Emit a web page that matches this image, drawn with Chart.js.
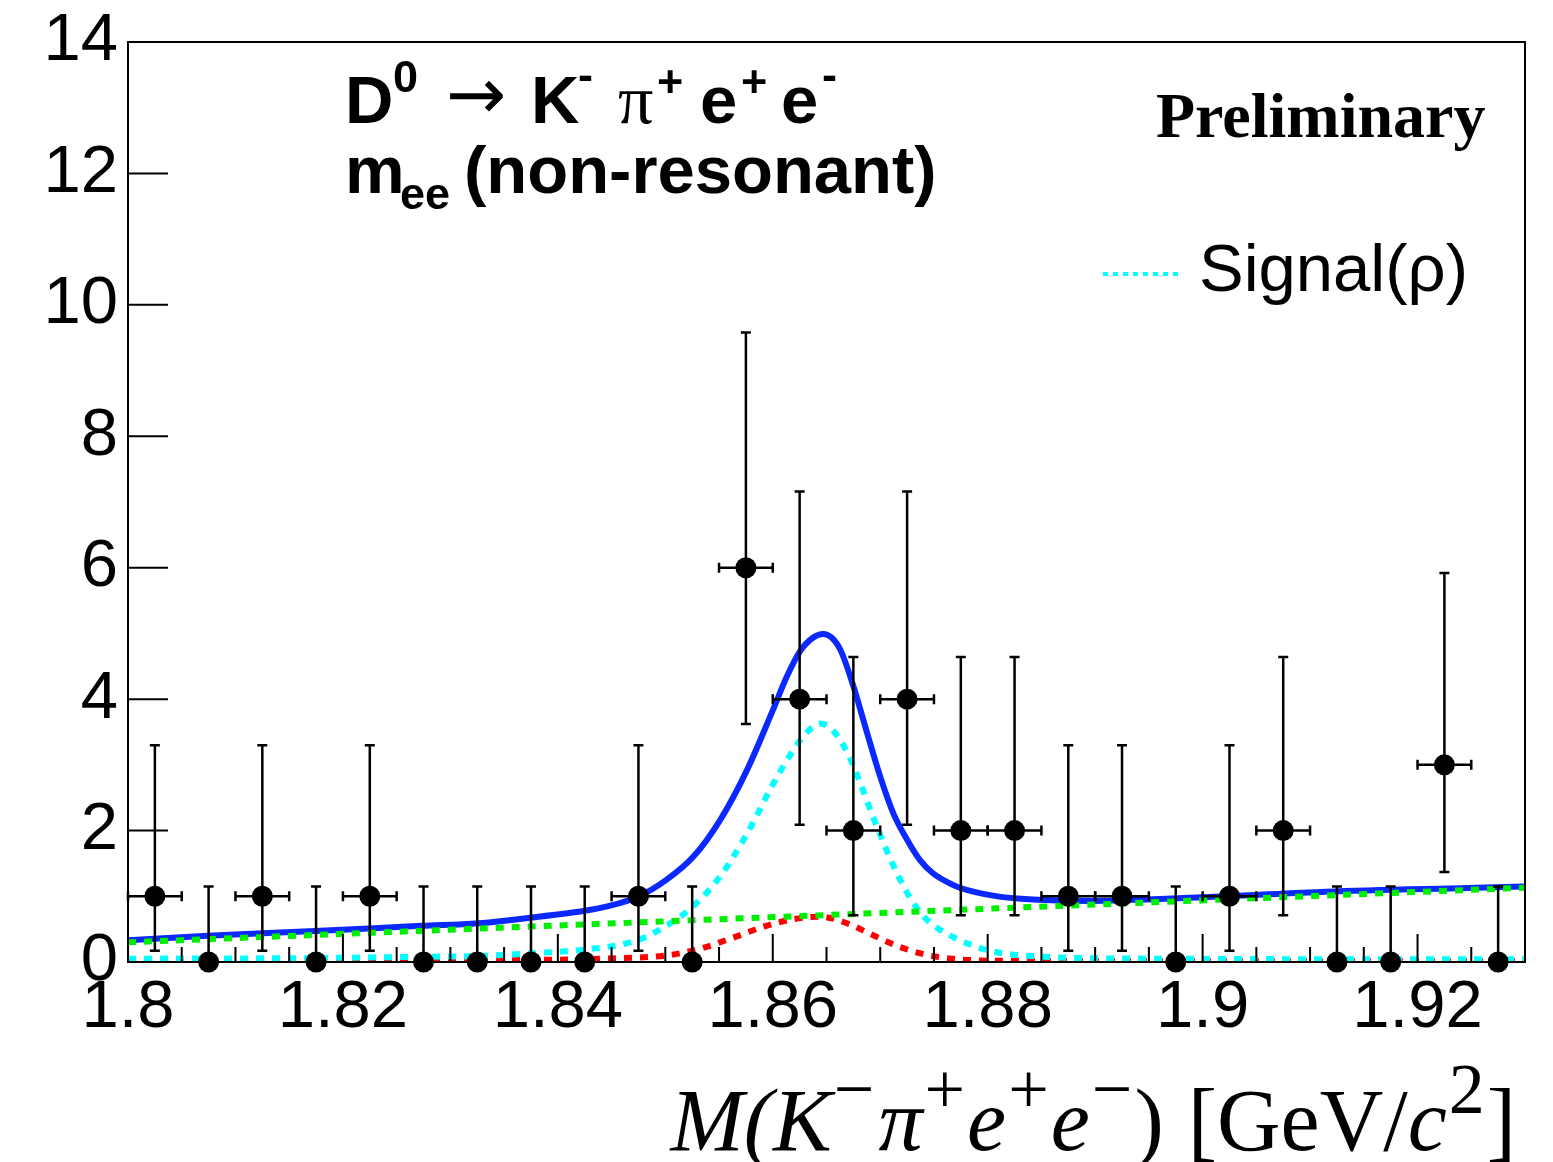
<!DOCTYPE html>
<html>
<head>
<meta charset="utf-8">
<script src="https://cdn.jsdelivr.net/npm/chart.js@4.4.1/dist/chart.umd.min.js"></script>
<style>
  html, body { margin: 0; padding: 0; background: #fff; }
</style>
</head>
<body>
<canvas id="fit" width="1553" height="1162"></canvas>
<script>
// ===== D0 -> K- pi+ e+ e- mass fit (non-resonant m_ee) =====

// Data: bin centres, counts and Poisson error bar edges
const binCenters = [1.8025, 1.8075, 1.8125, 1.8175, 1.8225, 1.8275, 1.8325, 1.8375, 1.8425, 1.8475,
                    1.8525, 1.8575, 1.8625, 1.8675, 1.8725, 1.8775, 1.8825, 1.8875, 1.8925, 1.8975,
                    1.9025, 1.9075, 1.9125, 1.9175, 1.9225, 1.9275];
const binHalfWidth = 0.0025;
const counts  = [1, 0, 1, 0, 1, 0, 0, 0, 0, 1, 0, 6, 4, 2, 4, 2, 2, 1, 1, 0, 1, 2, 0, 0, 3, 0];
const errLow  = [0.17, 0, 0.17, 0, 0.17, 0, 0, 0, 0, 0.17, 0, 3.62, 2.09, 0.71, 2.09, 0.71, 0.71, 0.17, 0.17, 0,
                 0.17, 0.71, 0, 0, 1.37, 0];
const errHigh = [3.30, 1.15, 3.30, 1.15, 3.30, 1.15, 1.15, 1.15, 1.15, 3.30, 1.15, 9.58, 7.16, 4.64, 7.16, 4.64,
                 4.64, 3.30, 3.30, 1.15, 3.30, 4.64, 1.15, 1.15, 5.92, 1.15];

// Fit curves
const totalX = [1.8000, 1.8074, 1.8174, 1.8273, 1.8326, 1.8372, 1.8425, 1.8447, 1.8474, 1.8501, 1.8526,
                1.8551, 1.8576, 1.8600, 1.8613, 1.8625, 1.8637, 1.8647, 1.8662, 1.8674, 1.8687, 1.8700,
                1.8712, 1.8725, 1.8737, 1.8749, 1.8762, 1.8774, 1.8805, 1.8842, 1.8898, 1.8960, 1.9022,
                1.9115, 1.9255, 1.9300];
const totalY = [0.33, 0.40, 0.47, 0.55, 0.59, 0.67, 0.78, 0.85, 0.99, 1.25, 1.60,
                2.16, 2.92, 3.83, 4.34, 4.72, 4.93, 4.99, 4.78, 4.25, 3.53, 2.82,
                2.27, 1.86, 1.55, 1.35, 1.22, 1.13, 1.01, 0.95, 0.93, 0.96, 1.00,
                1.07, 1.13, 1.15];

const signalX = [1.8000, 1.8174, 1.8273, 1.8326, 1.8372, 1.8425, 1.8470, 1.8501, 1.8526, 1.8551, 1.8576,
                 1.8600, 1.8619, 1.8632, 1.8644, 1.8656, 1.8669, 1.8681, 1.8693, 1.8706, 1.8718, 1.8730,
                 1.8743, 1.8762, 1.8780, 1.8805, 1.8851, 1.8960, 1.9300];
const signalY = [0.05, 0.06, 0.08, 0.09, 0.13, 0.19, 0.31, 0.55, 0.85, 1.30, 1.95,
                 2.70, 3.22, 3.50, 3.63, 3.52, 3.20, 2.74, 2.22, 1.70, 1.27, 0.92,
                 0.65, 0.43, 0.29, 0.16, 0.08, 0.05, 0.04];

const peakingX = [1.8000, 1.8372, 1.8439, 1.8501, 1.8532, 1.8563, 1.8594, 1.8619, 1.8644, 1.8669, 1.8693,
                  1.8718, 1.8743, 1.8767, 1.8805, 1.9300];
const peakingY = [0.01, 0.03, 0.05, 0.10, 0.20, 0.37, 0.55, 0.65, 0.69, 0.59, 0.41,
                  0.23, 0.11, 0.05, 0.02, 0.01];

const combX = [1.80, 1.93];
const combY = [0.30, 1.13];

// Axis ticks
const xTicks = [1.8, 1.82, 1.84, 1.86, 1.88, 1.9, 1.92];
const xTickLabels = ["1.8", "1.82", "1.84", "1.86", "1.88", "1.9", "1.92"];
const xMinorStep = 0.005;
const yTicks = [0, 2, 4, 6, 8, 10, 12, 14];
const yTickLabels = ["0", "2", "4", "6", "8", "10", "12", "14"];

const SANS = "'Liberation Sans', Arial, Helvetica, sans-serif";
const SERIF = "'Liberation Serif', 'Times New Roman', serif";

const toXY = (xs, ys) => xs.map((x, i) => ({ x: x, y: ys[i] }));

// draw a run of text pieces, each {t, font, dy, gap}
function drawRun(ctx, x, y, pieces) {
    pieces.forEach(p => {
        ctx.font = p.font;
        ctx.fillText(p.t, x, y + (p.dy || 0));
        x += ctx.measureText(p.t).width + (p.gap || 0);
    });
}
function runWidth(ctx, pieces) {
    let w = 0;
    pieces.forEach(p => { ctx.font = p.font; w += ctx.measureText(p.t).width + (p.gap || 0); });
    return w;
}

// ROOT-like frame, inward ticks, error bars and labels
const rootStyle = {
    id: "rootStyle",
    beforeDraw(chart) {
        const ctx = chart.ctx;
        ctx.save();
        ctx.fillStyle = "#fff";
        ctx.fillRect(0, 0, chart.width, chart.height);
        ctx.restore();
    },
    afterDatasetsDraw(chart) {
        const ctx = chart.ctx;
        const xs = chart.scales.x, ys = chart.scales.y;
        const a = chart.chartArea;
        ctx.save();
        ctx.strokeStyle = "#000";
        ctx.lineWidth = 2.5;

        // error bars
        const cap = 5;
        binCenters.forEach((c, i) => {
            const px = xs.getPixelForValue(c);
            const py = ys.getPixelForValue(counts[i]);
            const pLo = ys.getPixelForValue(errLow[i]);
            const pHi = ys.getPixelForValue(errHigh[i]);
            ctx.beginPath();
            ctx.moveTo(px, pLo); ctx.lineTo(px, pHi);
            ctx.moveTo(px - cap, pHi); ctx.lineTo(px + cap, pHi);
            if (counts[i] > 0) {
                const x0 = xs.getPixelForValue(c - binHalfWidth);
                const x1 = xs.getPixelForValue(c + binHalfWidth);
                ctx.moveTo(px - cap, pLo); ctx.lineTo(px + cap, pLo);
                ctx.moveTo(x0, py); ctx.lineTo(x1, py);
                ctx.moveTo(x0, py - cap); ctx.lineTo(x0, py + cap);
                ctx.moveTo(x1, py - cap); ctx.lineTo(x1, py + cap);
            }
            ctx.stroke();
        });

        // frame
        ctx.lineWidth = 2;
        ctx.strokeRect(a.left, a.top, a.right - a.left, a.bottom - a.top);

        // y ticks (inward)
        ctx.beginPath();
        yTicks.forEach(v => {
            const py = ys.getPixelForValue(v);
            ctx.moveTo(a.left, py); ctx.lineTo(a.left + 40, py);
        });
        // x ticks (inward, major + minor)
        for (let v = xs.min; v <= xs.max + 1e-9; v += xMinorStep) {
            const px = xs.getPixelForValue(v);
            const major = xTicks.some(t => Math.abs(t - v) < 1e-6);
            ctx.moveTo(px, a.bottom); ctx.lineTo(px, a.bottom - (major ? 28 : 15));
        }
        ctx.stroke();

        // titles
        ctx.fillStyle = "#000";
        ctx.textBaseline = "alphabetic";
        ctx.textAlign = "left";
        const B = "bold 67px " + SANS, Bs = "bold 45px " + SANS;
        ctx.font = B;      ctx.fillText("D", 345, 123);
        ctx.font = Bs;     ctx.fillText("0", 393, 92);
        ctx.font = "72px 'DejaVu Sans', sans-serif";
        ctx.textBaseline = "middle"; ctx.fillText("\u2192", 446, 100);
        ctx.textBaseline = "alphabetic";
        ctx.font = B;      ctx.fillText("K", 531, 123);
        ctx.font = Bs;     ctx.fillText("-", 578, 90);
        ctx.font = "70px " + SERIF; ctx.fillText("\u03c0", 618, 123);
        ctx.font = Bs;     ctx.fillText("+", 657, 97);
        ctx.font = B;      ctx.fillText("e", 700, 123);
        ctx.font = Bs;     ctx.fillText("+", 741, 97);
        ctx.font = B;      ctx.fillText("e", 781, 123);
        ctx.font = Bs;     ctx.fillText("-", 822, 90);

        ctx.font = B;      ctx.fillText("m", 345, 193);
        ctx.font = Bs;     ctx.fillText("ee", 400, 209);
        ctx.font = B;      ctx.fillText("(non-resonant)", 464, 193);

        ctx.font = "bold 64px " + SERIF;
        ctx.fillText("Preliminary", 1156, 137);

        // legend
        ctx.save();
        ctx.strokeStyle = "#00ffff";
        ctx.lineWidth = 4;
        ctx.setLineDash([5, 5]);
        ctx.beginPath(); ctx.moveTo(1103, 274); ctx.lineTo(1183, 274); ctx.stroke();
        ctx.restore();
        ctx.font = "67px " + SANS;
        ctx.fillText("Signal(\u03c1)", 1199, 291);

        // x axis title
        const I = "italic 88px " + SERIF, R = "88px " + SERIF, S = "72px " + SERIF;
        const up = -37;
        const title = [
            { t: "M(K", font: I, gap: 2 },
            { t: "\u2212", font: S, dy: up, gap: 4 },
            { t: "\u03c0", font: I, gap: 2 },
            { t: "+", font: S, dy: up, gap: 2 },
            { t: "e", font: I, gap: 2 },
            { t: "+", font: S, dy: up, gap: 2 },
            { t: "e", font: I, gap: 2 },
            { t: "\u2212", font: S, dy: up, gap: 2 },
            { t: ")", font: R, gap: 24 },
            { t: "[GeV/", font: R },
            { t: "c", font: I, gap: 2 },
            { t: "2", font: S, dy: up, gap: 2 },
            { t: "]", font: R }
        ];
        const w = runWidth(ctx, title);
        drawRun(ctx, 1516 - w, 1150, title);
        ctx.restore();
    }
};

new Chart(document.getElementById("fit"), {
    type: "scatter",
    data: {
        datasets: [
            {
                label: "Data",
                data: toXY(binCenters, counts),
                showLine: false,
                pointRadius: 10.5,
                pointBackgroundColor: "#000",
                pointBorderWidth: 0,
                clip: false,
                order: 0
            },
            {
                label: "Combinatorial",
                data: toXY(combX, combY),
                showLine: true,
                pointRadius: 0,
                borderColor: "#00ee00",
                borderWidth: 6,
                borderDash: [8, 8],
                order: 1
            },
            {
                label: "Signal(\u03c1)",
                data: toXY(signalX, signalY),
                showLine: true,
                pointRadius: 0,
                borderColor: "#00ffff",
                borderWidth: 6,
                borderDash: [8, 8],
                cubicInterpolationMode: "monotone",
                order: 2
            },
            {
                label: "Peaking",
                data: toXY(peakingX, peakingY),
                showLine: true,
                pointRadius: 0,
                borderColor: "#ff0000",
                borderWidth: 6,
                borderDash: [8, 8],
                cubicInterpolationMode: "monotone",
                order: 3
            },
            {
                label: "Total",
                data: toXY(totalX, totalY),
                showLine: true,
                pointRadius: 0,
                borderColor: "#0a28ff",
                borderWidth: 6,
                cubicInterpolationMode: "monotone",
                order: 4
            }
        ]
    },
    options: {
        responsive: false,
        animation: false,
        devicePixelRatio: 1,
        layout: { padding: { top: 42, right: 28, left: 0, bottom: 0 } },
        plugins: { legend: { display: false }, tooltip: { enabled: false } },
        scales: {
            x: {
                type: "linear",
                min: 1.8,
                max: 1.93,
                afterBuildTicks: s => { s.ticks = xTicks.map(v => ({ value: v })); },
                afterFit: s => { s.height = 200; s.paddingLeft = 0; s.paddingRight = 0; },
                grid: { display: false, drawTicks: false },
                border: { display: false },
                ticks: {
                    autoSkip: false,
                    maxRotation: 0,
                    padding: 6,
                    color: "#000",
                    font: { family: SANS, size: 67 },
                    callback: (v, i) => xTickLabels[i]
                }
            },
            y: {
                type: "linear",
                min: 0,
                max: 14,
                afterBuildTicks: s => { s.ticks = yTicks.map(v => ({ value: v })); },
                afterFit: s => { s.width = 128; s.paddingTop = 0; s.paddingBottom = 0; },
                grid: { display: false, drawTicks: false },
                border: { display: false },
                ticks: {
                    autoSkip: false,
                    padding: 10,
                    color: "#000",
                    font: { family: SANS, size: 67 },
                    callback: (v, i) => yTickLabels[i]
                }
            }
        }
    },
    plugins: [rootStyle]
});
</script>
</body>
</html>
